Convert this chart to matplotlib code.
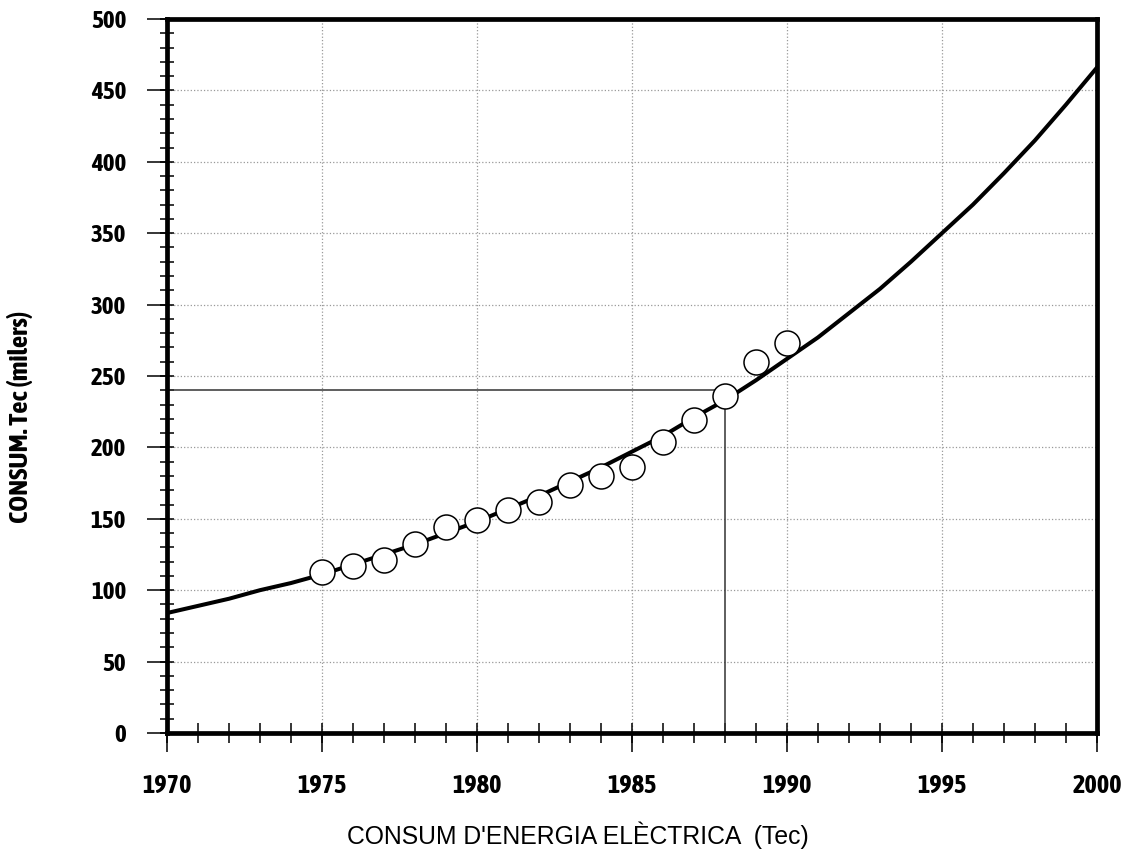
import matplotlib
matplotlib.use('Agg')
import numpy as np
import matplotlib.pyplot as plt
from matplotlib.ticker import MultipleLocator
from matplotlib import font_manager
import matplotlib.patheffects as pe

# observed consumption (thousands Tec)
anys = [1975, 1976, 1977, 1978, 1979, 1980, 1981, 1982, 1983, 1984, 1985, 1986, 1987, 1988, 1989, 1990]
consum = [113, 117, 121, 132, 144, 149, 156, 162, 174, 180, 186, 204, 219, 236, 260, 273]

# trend curve, one value per year
anys_tend = list(range(1970, 2001))
consum_tend = [84, 89, 94, 100, 105, 111, 118, 125, 132, 140,
               148, 157, 166, 176, 186, 197, 208, 221, 233, 247,
               262, 277, 294, 311, 330, 350, 370, 392, 415, 440, 466]

# reference line
ref_any = 1988
ref_valor = 240

# look for a narrow face among the installed fonts, prefer one with a bold weight
fonts = font_manager.fontManager.ttflist
estrets = sorted(set(f.name for f in fonts if 'Condensed' in f.name or 'Narrow' in f.name))
amb_negreta = [n for n in estrets
               if any(f.name == n and (f.weight in ('bold', 'heavy', 'black') or
                                       (isinstance(f.weight, int) and f.weight >= 600)) for f in fonts)]
fals_negreta = False
if amb_negreta:
    estret = amb_negreta[0]
elif estrets:
    estret = estrets[0]
    fals_negreta = True
else:
    estret = 'DejaVu Sans'
cond = [estret, 'DejaVu Sans']
efecte = [pe.withStroke(linewidth=0.9, foreground='black')] if fals_negreta else []

fig = plt.figure(figsize=(11.23, 8.52), dpi=100)
ax = fig.add_axes([0.1487, 0.1397, 0.8281, 0.838])

ax.set_xlim(1970, 2000)
ax.set_ylim(0, 500)

ax.grid(True, which='major', color='#999999', linestyle=':', linewidth=0.9)
ax.set_axisbelow(True)

ax.plot([1970, ref_any, ref_any], [ref_valor, ref_valor, 0], color='#333333', linewidth=1.1, zorder=2)
ax.plot(anys_tend, consum_tend, color='black', linewidth=2.9, zorder=3)
ax.plot(anys, consum, linestyle='none', marker='o', markersize=18,
        markerfacecolor='white', markeredgecolor='black', markeredgewidth=1.1, zorder=4)

ax.xaxis.set_major_locator(MultipleLocator(5))
ax.xaxis.set_minor_locator(MultipleLocator(1))
ax.yaxis.set_major_locator(MultipleLocator(50))
ax.yaxis.set_minor_locator(MultipleLocator(10))
ax.xaxis.remove_overlapping_locs = False
ax.yaxis.remove_overlapping_locs = False

ax.tick_params(axis='x', which='major', direction='out', length=13.7, width=1.1, pad=15)
ax.tick_params(axis='x', which='minor', direction='inout', length=14.4, width=1.1)
ax.tick_params(axis='y', which='major', direction='out', length=14.4, width=1.1, pad=15)
ax.tick_params(axis='y', which='minor', direction='inout', length=10, width=1.1)

for lab in ax.get_xticklabels():
    lab.set_family(cond)
    lab.set_fontweight('bold')
    lab.set_fontsize(19)
    lab.set_path_effects(efecte)
for lab in ax.get_yticklabels():
    lab.set_family(cond)
    lab.set_fontweight('bold')
    lab.set_fontsize(18)
    lab.set_path_effects(efecte)

for sp in ax.spines.values():
    sp.set_linewidth(3.4)

fig.text(20 / 1123, 1 - 417 / 852, 'CONSUM. Tec (milers)', rotation=90, ha='center', va='center',
         family=cond, fontweight='bold', fontsize=19.5, path_effects=efecte)
fig.text(578 / 1123, 1 - 835 / 852, "CONSUM D'ENERGIA ELÈCTRICA  (Tec)", ha='center', va='center',
         family=['Liberation Sans', 'DejaVu Sans'], fontsize=17.8)

plt.savefig('out.png', dpi=100)
